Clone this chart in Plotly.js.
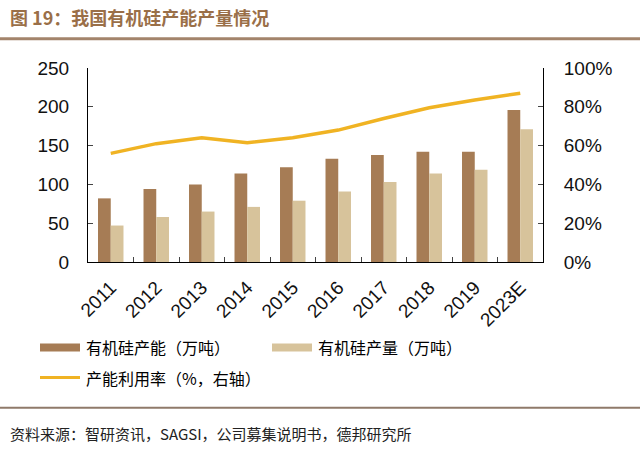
<!DOCTYPE html>
<html><head><meta charset="utf-8">
<script src="https://cdn.plot.ly/plotly-3.0.1.min.js"></script>
<style>html,body{margin:0;padding:0;background:#fff}#c{width:640px;height:451px}</style>
</head><body><div id="c"></div>
<script>
const years = ['2011','2012','2013','2014','2015','2016','2017','2018','2019','2023E'];
const capacity = [82, 94, 100, 114, 122, 133, 138, 142, 142, 196];
const production = [47, 58, 65, 71, 79, 91, 103, 114, 119, 171];
const utilization = [0.56, 0.61, 0.64, 0.615, 0.64, 0.68, 0.74, 0.795, 0.835, 0.87];
const names = ['有机硅产能（万吨）', '有机硅产量（万吨）', '产能利用率（%，右轴）'];
const colors = ['#a67c55', '#d7c39b', '#f0b323'];

const cjk = '"Noto Sans CJK SC", "Liberation Sans", sans-serif';
const traces = [
  {type:'bar', x:years, y:capacity, name:names[0], marker:{color:colors[0]}, showlegend:false},
  {type:'bar', x:years, y:production, name:names[1], marker:{color:colors[1]}, showlegend:false},
  {type:'scatter', mode:'lines', x:years, y:utilization, name:names[2], yaxis:'y2',
   line:{color:colors[2], width:3.5}, showlegend:false}
];
const tf = {size:19, color:'#111'};
const layout = {
  width:640, height:451,
  margin:{l:88, r:97, t:68, b:189},
  paper_bgcolor:'#fff', plot_bgcolor:'#fff',
  barmode:'group', bargap:0.44, bargroupgap:0,
  font:{family:'"Liberation Sans", Arial, sans-serif', color:'#000', size:19},
  xaxis:{type:'category', showline:true, linecolor:'#000', linewidth:1, ticks:'inside', ticklen:5,
    tickson:'boundaries', tickangle:-45, tickfont:tf, showgrid:false, zeroline:false, ticklabelstandoff:6},
  yaxis:{range:[0,250], dtick:50, showline:true, linecolor:'#000', linewidth:1, ticks:'inside', ticklen:5,
    showgrid:false, zeroline:false, tickfont:tf, ticklabelstandoff:14},
  yaxis2:{range:[0,1], dtick:0.2, tickformat:'.0%', overlaying:'y', side:'right', showline:true,
    linecolor:'#000', linewidth:1, ticks:'inside', ticklen:5, showgrid:false, zeroline:false, tickfont:tf, ticklabelstandoff:16},
  shapes:[
    {type:'line', xref:'paper', yref:'paper', x0:-88/455, x1:(640-88)/455, y0:(451-189-40)/193, y1:(451-189-40)/193,
      line:{color:'#a3846b', width:3}},
    {type:'line', xref:'paper', yref:'paper', x0:-88/455, x1:(640-88)/455, y0:(262-407)/193, y1:(262-407)/193,
      line:{color:'#8f7a6a', width:2}},
    {type:'rect', xref:'paper', yref:'paper', x0:(40-88)/455, x1:(80-88)/455, y0:(262-351)/193, y1:(262-343)/193,
      fillcolor:colors[0], line:{width:0}},
    {type:'rect', xref:'paper', yref:'paper', x0:(272-88)/455, x1:(312-88)/455, y0:(262-351)/193, y1:(262-343)/193,
      fillcolor:colors[1], line:{width:0}},
    {type:'line', xref:'paper', yref:'paper', x0:(40-88)/455, x1:(80-88)/455, y0:(262-377)/193, y1:(262-377)/193,
      line:{color:colors[2], width:3}}
  ],
  annotations:[
    {xref:'paper', yref:'paper', x:-80/455, y:(262-18)/193, xanchor:'left', yanchor:'middle', showarrow:false,
      text:'<b>图 19：我国有机硅产能产量情况</b>', font:{family:cjk, size:18, color:'#9a6f48'}},
    {xref:'paper', yref:'paper', x:(84-88)/455, y:(262-347)/193, xanchor:'left', yanchor:'middle', showarrow:false,
      text:names[0], font:{family:cjk, size:16, color:'#000'}},
    {xref:'paper', yref:'paper', x:(316-88)/455, y:(262-347)/193, xanchor:'left', yanchor:'middle', showarrow:false,
      text:names[1], font:{family:cjk, size:16, color:'#000'}},
    {xref:'paper', yref:'paper', x:(84-88)/455, y:(262-377)/193, xanchor:'left', yanchor:'middle', showarrow:false,
      text:names[2], font:{family:cjk, size:16, color:'#000'}},
    {xref:'paper', yref:'paper', x:-80/455, y:(262-433)/193, xanchor:'left', yanchor:'middle', showarrow:false,
      text:'资料来源：智研资讯，SAGSI，公司募集说明书，德邦研究所', font:{family:cjk, size:15, color:'#222'}}
  ]
};
Plotly.newPlot('c', traces, layout, {staticPlot:true, displayModeBar:false});
</script></body></html>
